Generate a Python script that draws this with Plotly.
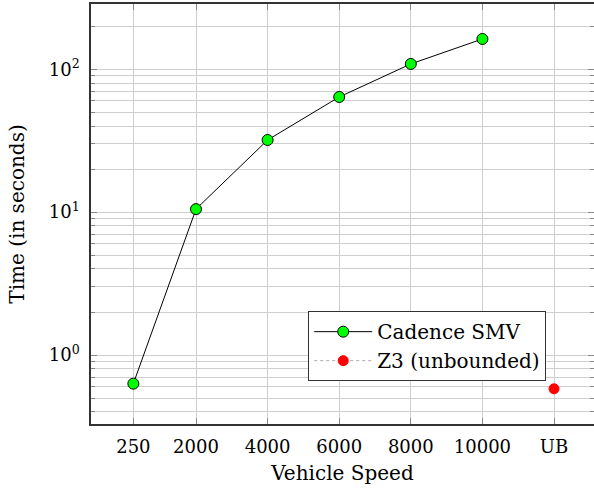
import plotly.graph_objects as go

# Data
speeds = [250, 2000, 4000, 6000, 8000, 10000]
smv_times = [0.63, 10.5, 32, 64, 109, 163]
ub_x = [12000]
z3_times = [0.58]
x_tickvals = [250, 2000, 4000, 6000, 8000, 10000, 12000]
x_ticktext = ["250", "2000", "4000", "6000", "8000", "10000", "UB"]
y_tickvals = [1, 10, 100]
y_ticktext = ["10<sup>0</sup>", "10<sup>1</sup>", "10<sup>2</sup>"]
y_minor = [0.4, 0.5, 0.6, 0.7, 0.8, 0.9, 2, 3, 4, 5, 6, 7, 8, 9,
           20, 30, 40, 50, 60, 70, 80, 90, 200]

FONT = "DejaVu Serif"
GRID = "#cfcfcf"

fig = go.Figure()
fig.add_trace(go.Scatter(
    x=speeds, y=smv_times, mode="lines+markers", name="Cadence SMV",
    line=dict(color="black", width=1),
    marker=dict(symbol="circle", size=11, color="#00ff00",
                line=dict(color="black", width=1)),
))
fig.add_trace(go.Scatter(
    x=ub_x, y=z3_times, mode="lines+markers", name="Z3 (unbounded)",
    line=dict(color="#aaaaaa", width=1, dash="dot"),
    marker=dict(symbol="circle", size=10, color="#ff0000",
                line=dict(color="#ff0000", width=1)),
))

fig.update_layout(
    width=594, height=489, autosize=False,
    margin=dict(l=91, r=0, t=4, b=65),
    paper_bgcolor="white", plot_bgcolor="white",
    font=dict(family=FONT, size=18, color="black"),
    showlegend=True,
    legend=dict(
        x=0.905, y=0.102, xanchor="right", yanchor="bottom",
        bordercolor="#333333", borderwidth=1, bgcolor="white",
        font=dict(family=FONT, size=20), itemwidth=58,
        tracegroupgap=0,
    ),
    xaxis=dict(
        range=[-933, 13117], automargin=False,
        tickmode="array", tickvals=x_tickvals, ticktext=x_ticktext,
        showgrid=True, gridcolor=GRID, gridwidth=1,
        ticks="inside", ticklen=6, tickcolor="#888888",
        showline=True, linecolor="#333333", linewidth=1.5, mirror="ticks",
        zeroline=False, ticklabelstandoff=6,
        tickfont=dict(size=18),
        title=dict(text="Vehicle Speed", standoff=10, font=dict(size=20)),
    ),
    yaxis=dict(
        type="log", automargin=False,
        range=[-0.483, 2.457],
        tickmode="array", tickvals=y_tickvals, ticktext=y_ticktext,
        showgrid=True, gridcolor=GRID, gridwidth=1,
        ticks="inside", ticklen=6, tickcolor="#888888",
        showline=True, linecolor="#333333", linewidth=1.5, mirror="ticks",
        zeroline=False, ticklabelstandoff=6,
        tickfont=dict(size=18),
        minor=dict(tickmode="array", tickvals=y_minor, showgrid=True,
                   gridcolor=GRID, gridwidth=1, ticks="inside", ticklen=4,
                   tickcolor="#888888"),
        title=dict(text="Time (in seconds)", standoff=19, font=dict(size=20)),
    ),
)

post = ("document.body.style.margin='0';"
        "var gd=document.getElementById('{plot_id}');"
        "Plotly.relayout(gd,{width:594,height:489});")
fig.write_html("out.html", post_script=post,
               config={"responsive": False, "displayModeBar": False})
